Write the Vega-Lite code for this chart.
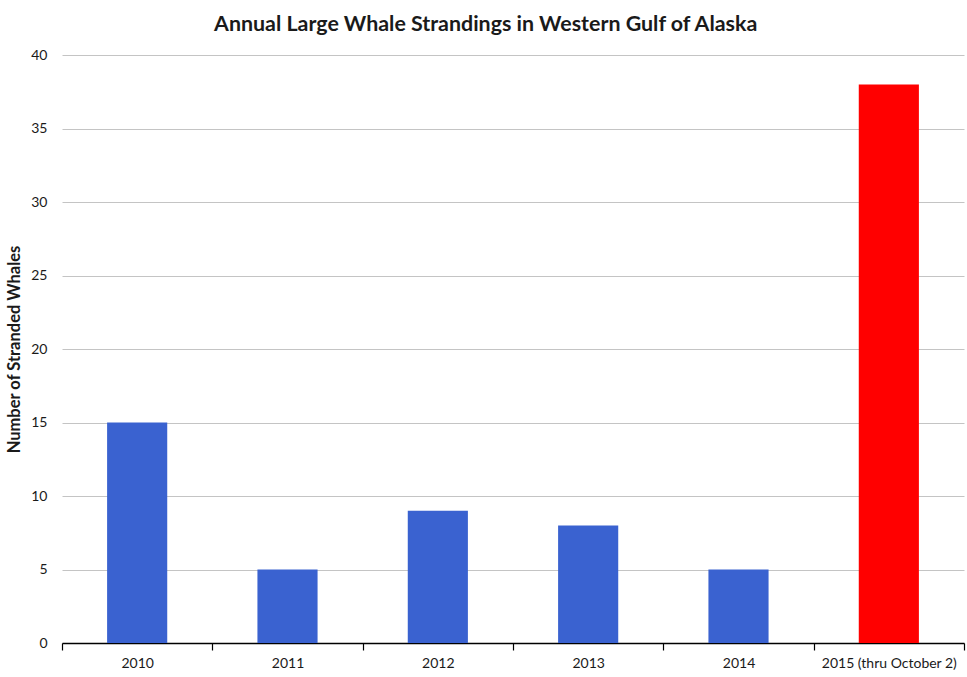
{
  "$schema": "https://vega.github.io/schema/vega-lite/v6.json",
  "width": 902,
  "height": 588,
  "padding": {"left": 6, "top": 13, "right": 1, "bottom": 5},
  "background": "white",
  "title": {
    "text": "Annual Large Whale Strandings in Western Gulf of Alaska",
    "font": "Lato",
    "fontSize": 21.4,
    "fontWeight": "bold",
    "color": "#1a1a1a",
    "anchor": "middle",
    "frame": "bounds",
    "offset": 13
  },
  "data": {
    "values": [
      {"year": "2010", "whales": 15, "current": "no"},
      {"year": "2011", "whales": 5, "current": "no"},
      {"year": "2012", "whales": 9, "current": "no"},
      {"year": "2013", "whales": 8, "current": "no"},
      {"year": "2014", "whales": 5, "current": "no"},
      {"year": "2015 (thru October 2)", "whales": 38, "current": "yes"}
    ]
  },
  "mark": {"type": "bar", "width": {"band": 0.4}},
  "encoding": {
    "x": {
      "field": "year",
      "type": "nominal",
      "sort": null,
      "title": null,
      "scale": {"paddingInner": 0, "paddingOuter": 0},
      "axis": {
        "labelAngle": 0,
        "labelFont": "Lato",
        "labelFontSize": 14,
        "labelColor": "#1a1a1a",
        "labelPadding": 6,
        "domainColor": "#000000",
        "domainWidth": 1.5,
        "tickColor": "#000000",
        "tickWidth": 1.2,
        "tickBand": "extent",
        "tickSize": 7,
        "grid": false
      }
    },
    "y": {
      "field": "whales",
      "type": "quantitative",
      "title": "Number of Stranded Whales",
      "scale": {"domain": [0, 40]},
      "axis": {
        "values": [0, 5, 10, 15, 20, 25, 30, 35, 40],
        "domain": false,
        "ticks": false,
        "labelFont": "Lato",
        "labelFontSize": 14,
        "labelColor": "#1a1a1a",
        "labelPadding": 15,
        "gridColor": "#c4c4c4",
        "gridWidth": 1,
        "titleFont": "Lato",
        "titleFontSize": 16.5,
        "titleFontWeight": "bold",
        "titleColor": "#1a1a1a",
        "titlePadding": 8
      }
    },
    "color": {
      "field": "current",
      "type": "nominal",
      "scale": {"domain": ["no", "yes"], "range": ["#3a62d0", "#ff0000"]},
      "legend": null
    }
  },
  "config": {"view": {"stroke": null}}
}
